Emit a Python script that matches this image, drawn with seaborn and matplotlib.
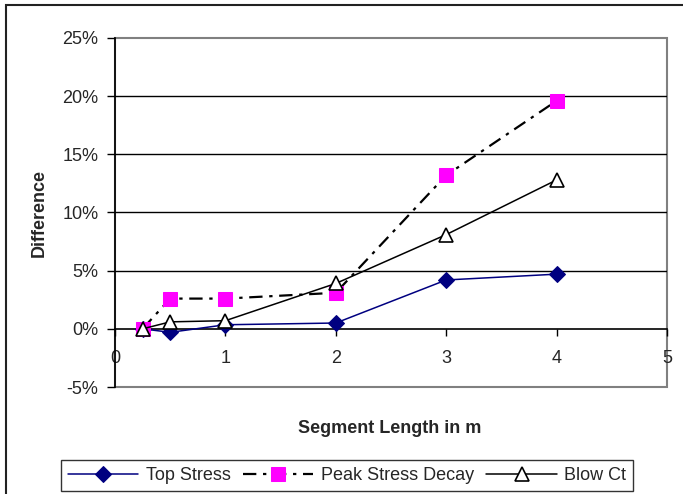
import matplotlib
matplotlib.use("Agg")
import matplotlib.pyplot as plt
from matplotlib.patches import Rectangle
from matplotlib.ticker import PercentFormatter, MultipleLocator
import seaborn as sns
import pandas as pd

# Segment lengths (m) and relative differences
segment_length = [0.25, 0.5, 1, 2, 3, 4]
top_stress = [0.000, -0.003, 0.0035, 0.005, 0.042, 0.047]
peak_stress_decay = [0.000, 0.026, 0.026, 0.031, 0.132, 0.196]
blow_ct = [0.000, 0.006, 0.007, 0.039, 0.081, 0.128]

sns.set_theme(style="white")
plt.rcParams["font.family"] = ["Liberation Sans", "DejaVu Sans"]
plt.rcParams["font.size"] = 13
plt.rcParams["axes.unicode_minus"] = False

fig = plt.figure(figsize=(6.83, 4.94), dpi=100)
ax = fig.add_axes([115 / 683, 1 - 387 / 494, 552 / 683, 349 / 494])

df = pd.DataFrame({"x": segment_length, "top": top_stress,
                   "peak": peak_stress_decay, "blow": blow_ct})

sns.lineplot(data=df, x="x", y="top", ax=ax, color="#000080", lw=1.1,
             marker="D", markersize=8, markerfacecolor="#000080",
             markeredgecolor="#000080", label="Top Stress", zorder=3)
sns.lineplot(data=df, x="x", y="peak", ax=ax, color="black", lw=1.6,
             linestyle=(0, (6, 3, 1.5, 3)), marker="s", markersize=10,
             markerfacecolor="#ff00ff", markeredgecolor="#ff00ff",
             label="Peak Stress Decay", zorder=4)
sns.lineplot(data=df, x="x", y="blow", ax=ax, color="black", lw=1.1,
             marker="^", markersize=10, markerfacecolor="white",
             markeredgecolor="black", markeredgewidth=1.2,
             label="Blow Ct", zorder=5)

ax.set_xlim(0, 5)
ax.set_ylim(-0.05, 0.25)
ax.xaxis.set_major_locator(MultipleLocator(1))
ax.yaxis.set_major_locator(MultipleLocator(0.05))
ax.yaxis.set_major_formatter(PercentFormatter(xmax=1, decimals=0))

# horizontal gridlines
for v in [0.05, 0.10, 0.15, 0.20]:
    ax.axhline(v, color="black", lw=1, zorder=1)

# plot-area frame in grey
for s in ["top", "right"]:
    ax.spines[s].set_visible(False)
ax.add_patch(Rectangle((0, 0), 1, 1, transform=ax.transAxes, fill=False,
                       edgecolor="#808080", lw=1.5, zorder=0.5, clip_on=False))
ax.spines["left"].set_color("black")
ax.spines["left"].set_linewidth(1.2)
ax.spines["bottom"].set_position(("data", 0))
ax.spines["bottom"].set_color("black")
ax.spines["bottom"].set_linewidth(1.2)

ax.tick_params(axis="y", direction="out", length=6, width=1, color="black",
               left=True, pad=6, labelsize=13)
ax.tick_params(axis="x", direction="out", length=5, width=1, color="black",
               bottom=True, pad=10, labelsize=13)

ax.set_xlabel("Segment Length in m", fontweight="bold", fontsize=13)
ax.set_ylabel("Difference", fontweight="bold", fontsize=13)
ax.xaxis.set_label_coords(0.498, -0.095)
ax.yaxis.set_label_coords(-0.121, 0.5)

leg = ax.legend(loc="center", bbox_to_anchor=(0.508, 0.037),
                bbox_transform=fig.transFigure, ncol=3, frameon=True,
                fancybox=False, handlelength=3.9, handletextpad=0.4,
                columnspacing=0.7, borderpad=0.4, borderaxespad=0,
                fontsize=13)
leg.get_frame().set_edgecolor("black")
leg.get_frame().set_linewidth(1)

# outer chart border
fig.patches.append(Rectangle((6 / 683, -0.2), 1.2, 0.2 + 1 - 5 / 494,
                             transform=fig.transFigure, fill=False,
                             edgecolor="#222222", lw=1.5))

fig.savefig("out.png", dpi=100)
